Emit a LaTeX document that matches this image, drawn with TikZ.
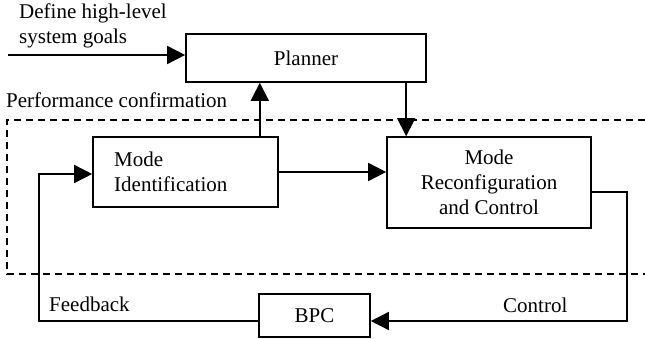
\documentclass[tikz,border=0pt]{standalone}
\usepackage{fontspec}
\setmainfont{Liberation Serif}
\usetikzlibrary{arrows.meta}
\begin{document}
\begin{tikzpicture}[x=1pt,y=-1pt,
  font=\fontsize{21}{25}\selectfont,
  box/.style={draw,line width=1.6pt,inner sep=0pt,minimum width=#1},
  conn/.style={line width=1.5pt},
  arr/.style={conn,-{Triangle[length=18pt,width=18pt]}},
  lbl/.style={inner sep=0pt},
  dashbox/.style={line width=1.6pt,dash pattern=on 7pt off 5pt}]
\useasboundingbox (0,0) rectangle (645,339);
% dashed region
\draw[dashbox] (645,120) -- (7,120) -- (7,274) -- (645,274);
% boxes
\node[box=240pt,minimum height=48pt] (planner) at (306,58) {Planner};
\node[box=185pt,minimum height=70pt] (modeid) at (185.5,172) {};
\node[lbl,align=left,anchor=west] (modeidtxt) at (114,172) {Mode\\Identification};
\node[box=204pt,minimum height=91pt,align=center] (reconfig) at (489,182.5) {Mode\\Reconfiguration\\and Control};
\node[box=111pt,minimum height=43pt] (bpc) at (314.5,315.5) {BPC};
% labels
\node[lbl,align=left,anchor=north west] (goals) at (19,4) {Define high-level\\system goals};
\node[lbl,anchor=base west] (perf) at (6,108) {Performance confirmation};
\node[lbl,anchor=base west] (fbl) at (49,311) {Feedback};
\node[lbl,anchor=base west] (ctl) at (503,312) {Control};
% coordinates
\coordinate (gin) at (8,55);
\coordinate (cr) at (627,321);
\coordinate (fb) at (39,174);
% connectors
\draw[arr] (gin) -- (gin -| planner.west);
\draw[arr] ([xshift=-19pt]modeid.north east) -- ([xshift=-19pt]modeid.north east |- planner.south);
\draw[arr] ([xshift=20pt]reconfig.north west |- planner.south) -- ([xshift=20pt]reconfig.north west);
\draw[arr] (modeid.east) -- (modeid.east -| reconfig.west);
\draw[arr] ([yshift=-9.5pt]reconfig.east) -| (cr) -- (cr -| bpc.east);
\draw[arr] (bpc.west |- cr) -| (fb) -- (fb -| modeid.west);
\end{tikzpicture}
\end{document}
